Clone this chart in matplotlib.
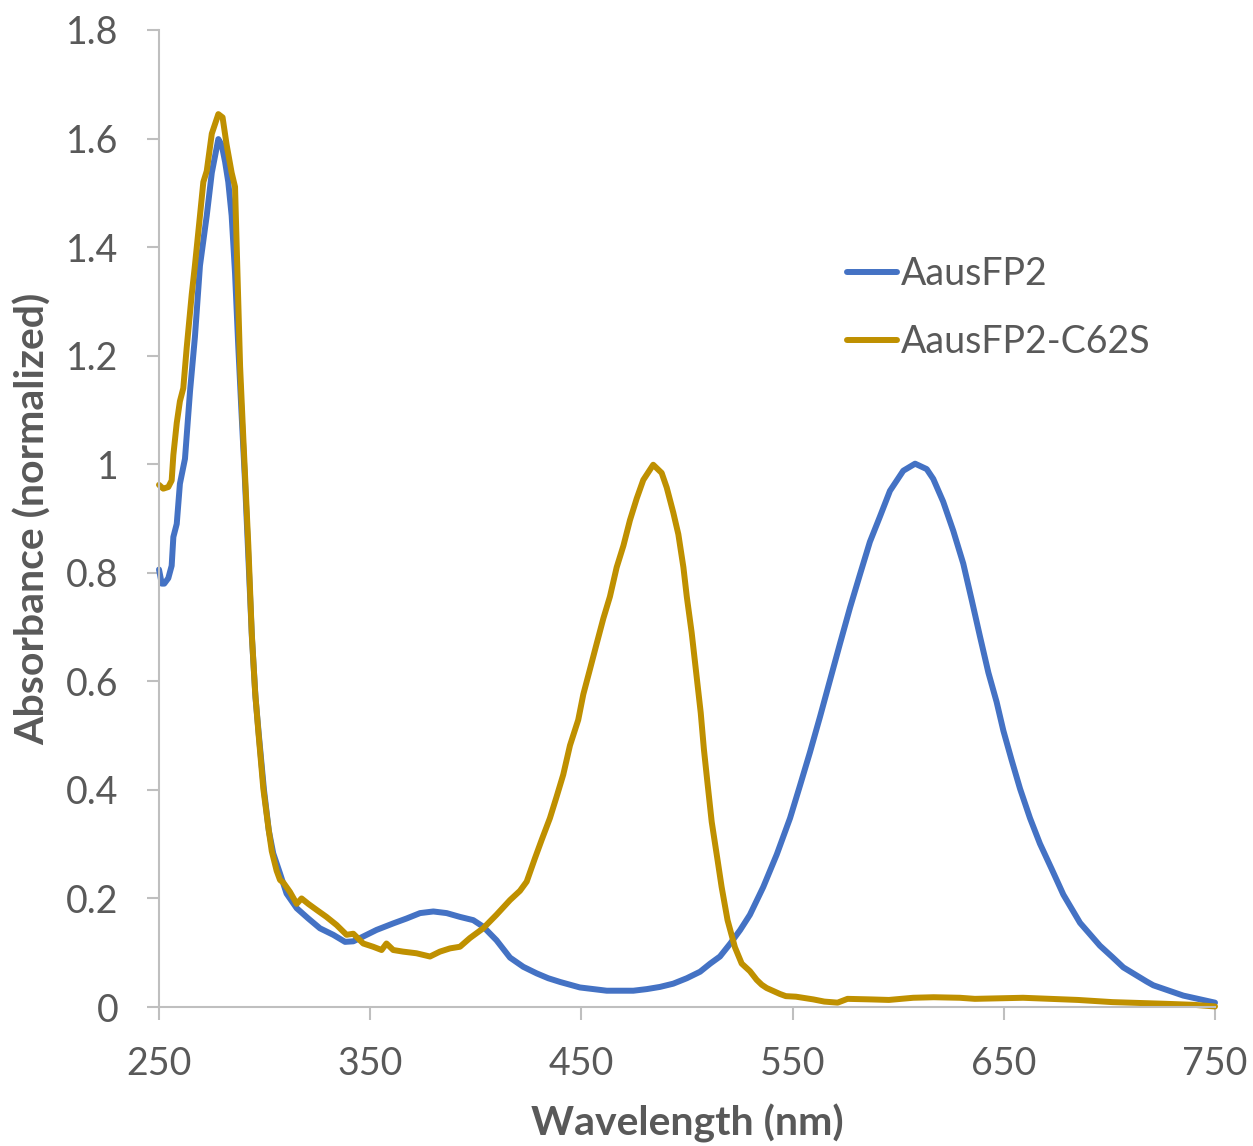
import matplotlib
matplotlib.use("Agg")
import matplotlib.pyplot as plt
from matplotlib.ticker import FuncFormatter, FixedLocator, MultipleLocator

# values
wl_wt = [250, 251.3, 252.5, 254.4, 256, 256.8, 258.4, 259.9, 262.3, 264.7, 267, 269.4,
         272.6, 275, 278.1, 279.7, 281.3, 282.8, 284.4, 286, 287.5, 289, 290.7, 292.3,
         294, 295.7, 297.3, 299.7, 302, 304.1, 307.3, 310.4, 315.2, 320.7, 326.2, 332.5,
         338.1, 342, 345.2, 353, 360.9, 367.2, 373.6, 379.9, 386.2, 392.5, 398.8, 403.5,
         409.8, 416.2, 422.5, 428.8, 434.3, 440, 449.3, 462, 474.6, 481, 487.2, 493.5,
         499.9, 506.2, 511, 515.6, 520.5, 525.2, 529.8, 536.1, 542.5, 548.8, 553.5, 558.2,
         563, 567.7, 572.4, 577.2, 581.9, 586.6, 591.4, 596.1, 602.4, 608, 613.5, 616.6,
         621.3, 626.1, 630.8, 634.8, 638.7, 642.7, 646.6, 649.8, 653.7, 657.7, 662.4, 667.1,
         672.7, 678.2, 686.1, 695.5, 701.4, 706.6, 717.6, 720.8, 735, 750]
abs_wt = [0.806, 0.78, 0.78, 0.79, 0.813, 0.866, 0.89, 0.964, 1.01, 1.135, 1.234, 1.366,
          1.458, 1.537, 1.599, 1.588, 1.557, 1.52, 1.458, 1.352, 1.22, 1.10, 0.97, 0.83,
          0.68, 0.57, 0.50, 0.40, 0.325, 0.283, 0.246, 0.209, 0.182, 0.163, 0.145, 0.133,
          0.120, 0.121, 0.127, 0.142, 0.154, 0.163, 0.173, 0.176, 0.173, 0.166, 0.160, 0.148,
          0.123, 0.091, 0.074, 0.062, 0.053, 0.046, 0.036, 0.030, 0.030, 0.033, 0.037, 0.043,
          0.053, 0.065, 0.080, 0.093, 0.117, 0.142, 0.170, 0.221, 0.281, 0.348, 0.408, 0.469,
          0.535, 0.602, 0.669, 0.736, 0.797, 0.857, 0.904, 0.951, 0.988, 1.001, 0.991, 0.973,
          0.931, 0.877, 0.817, 0.75, 0.683, 0.616, 0.562, 0.509, 0.455, 0.402, 0.348, 0.301,
          0.254, 0.207, 0.155, 0.113, 0.092, 0.073, 0.047, 0.040, 0.021, 0.008]

wl_mut = [250, 252, 254.4, 256, 256.8, 258.4, 259.9, 261.5, 263.1, 265.5, 267, 269.4, 271,
          272.6, 275, 278.1, 280.1, 282, 284.4, 286, 286.8, 288.4, 289.9, 292.3, 293.9,
          295.5, 297, 299.4, 301.8, 303.4, 305.7, 307.3, 308.9, 312, 315.2, 317.5, 320.7,
          324.6, 329.3, 334.1, 338.8, 342, 346.7, 351.4, 355.4, 357.7, 360.9, 365.6, 371.9,
          378.3, 383, 387.8, 392.5, 397.2, 403.5, 409.8, 416.2, 420.9, 424.1, 428, 431.2,
          435.1, 438.3, 441.4, 444.6, 448.5, 450.9, 454.1, 457.2, 460.4, 463.5, 466.7, 469.9,
          473, 476.2, 479.3, 484, 488, 490.4, 493.5, 495.9, 498.3, 499.9, 502.2, 503.8, 506.5,
          508, 509.5, 511.7, 514.5, 516.4, 519.2, 522.7, 525.9, 529.8, 533, 535.4, 537.7, 544,
          546.8, 551.6, 559.8, 565, 571.3, 576, 587, 595.6, 607.1, 616.8, 629.2, 636.3, 659.1,
          685.1, 701.4, 725.8, 740, 750]
abs_mut = [0.962, 0.955, 0.958, 0.97, 1.017, 1.076, 1.116, 1.14, 1.214, 1.313, 1.366, 1.458,
           1.52, 1.54, 1.609, 1.645, 1.639, 1.589, 1.537, 1.511, 1.40, 1.18, 1.05, 0.85, 0.69,
           0.581, 0.509, 0.402, 0.33, 0.287, 0.251, 0.234, 0.229, 0.212, 0.19, 0.20, 0.19,
           0.179, 0.166, 0.151, 0.133, 0.135, 0.117, 0.111, 0.105, 0.117, 0.105, 0.102, 0.099,
           0.093, 0.102, 0.108, 0.111, 0.127, 0.145, 0.170, 0.197, 0.214, 0.231, 0.274, 0.308,
           0.348, 0.388, 0.428, 0.482, 0.529, 0.576, 0.623, 0.669, 0.716, 0.756, 0.81, 0.85,
           0.897, 0.937, 0.971, 0.999, 0.984, 0.957, 0.911, 0.871, 0.81, 0.756, 0.69, 0.635,
           0.542, 0.475, 0.42, 0.341, 0.27, 0.221, 0.16, 0.11, 0.08, 0.066, 0.050, 0.041,
           0.035, 0.024, 0.020, 0.019, 0.014, 0.010, 0.008, 0.015, 0.014, 0.013, 0.017, 0.018,
           0.017, 0.015, 0.017, 0.013, 0.009, 0.006, 0.004, 0.001]

x_ticks = [250, 350, 450, 550, 650, 750]

grey = '#595959'
axis_grey = '#BFBFBF'
plt.rcParams['font.family'] = ['Lato', 'DejaVu Sans']

fig = plt.figure(figsize=(12.53, 11.46), dpi=100)
ax = fig.add_axes([159/1253, 1 - 1007/1146, 1056/1253, 977/1146])

ax.plot(wl_wt, abs_wt, color='#4472C4', lw=4.3, label='AausFP2', clip_on=False,
        solid_capstyle='round', solid_joinstyle='round')
ax.plot(wl_mut, abs_mut, color='#BF9000', lw=4.3, label='AausFP2-C62S', clip_on=False,
        solid_capstyle='round', solid_joinstyle='round')

ax.set_xlim(250, 750)
ax.set_ylim(0, 1.8)
ax.xaxis.set_major_locator(FixedLocator(x_ticks))
ax.yaxis.set_major_locator(MultipleLocator(0.2))
ax.yaxis.set_major_formatter(FuncFormatter(lambda v, p: f"{v:g}"))

for s in ['top', 'right']:
    ax.spines[s].set_visible(False)
for s in ['left', 'bottom']:
    ax.spines[s].set_color(axis_grey)
    ax.spines[s].set_linewidth(1.5)

ax.tick_params(axis='both', colors=axis_grey, labelcolor=grey, labelsize=27,
               length=9, width=1.5, direction='out')
ax.tick_params(axis='x', pad=19)
ax.tick_params(axis='y', pad=20)

ax.set_xlabel('Wavelength (nm)', fontsize=29.5, fontweight='bold', color=grey, labelpad=16)
ax.set_ylabel('Absorbance (normalized)', fontsize=29.5, fontweight='bold', color=grey, labelpad=10)

leg = ax.legend(loc='upper left', bbox_to_anchor=(813/1253, 1 - 222/1146),
                bbox_transform=fig.transFigure, frameon=False, fontsize=27,
                handlelength=1.35, handletextpad=0.1, labelspacing=0.85)
for t in leg.get_texts():
    t.set_color(grey)

fig.savefig('out.png', dpi=100)
